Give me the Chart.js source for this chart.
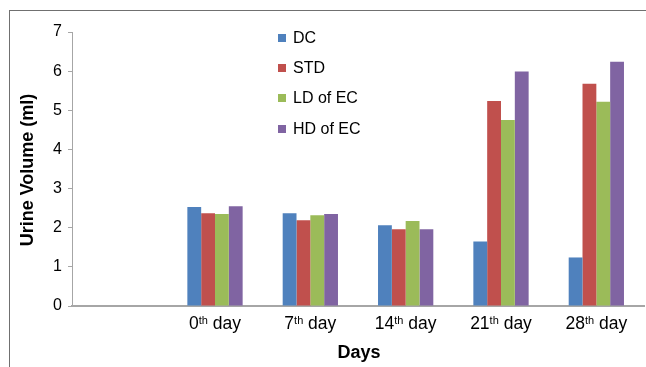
<!DOCTYPE html>
<html>
<head>
<meta charset="utf-8">
<script src="https://cdn.jsdelivr.net/npm/chart.js@4.4.1/dist/chart.umd.min.js"></script>
<style>
  html, body { margin: 0; padding: 0; background: #fff; overflow: hidden; }
  #wrap { position: relative; width: 646px; height: 367px; overflow: hidden; }
  #frame { position: absolute; left: 9px; top: 10px; width: 637px; height: 357px; border-left: 1px solid #707070; border-top: 1px solid #707070; box-sizing: border-box; }
  canvas { position: absolute; left: 0; top: 0; }
  .leg { position: absolute; left: 278px; font: 16px "Liberation Sans", Arial, sans-serif; color: #000; line-height: 20px; height: 20px; }
  .leg span.sw { position: absolute; left: 0; top: 6px; width: 8px; height: 8px; }
  .leg span.tx { position: absolute; left: 15px; top: 0; white-space: nowrap; }
</style>
</head>
<body>
<div id="wrap">
  <div id="frame"></div>
  <canvas id="c" width="646" height="367"></canvas>
  <div id="legend"></div>
</div>
<script>
const categories = ['', '0th day', '7th day', '14th day', '21th day', '28th day'];
const seriesNames = ['DC', 'STD', 'LD of EC', 'HD of EC'];
const seriesColors = ['#4F81BD', '#C0504D', '#9BBB59', '#8064A2'];
const dcValues  = [null, 2.53, 2.37, 2.06, 1.65, 1.24];
const stdValues = [null, 2.37, 2.19, 1.96, 5.24, 5.68];
const ldValues  = [null, 2.35, 2.32, 2.17, 4.75, 5.22];
const hdValues  = [null, 2.55, 2.35, 1.96, 5.99, 6.24];
const yTicks = [0, 1, 2, 3, 4, 5, 6, 7];
const yTitle = 'Urine Volume (ml)';
const xTitle = 'Days';

const allValues = [dcValues, stdValues, ldValues, hdValues];

// HTML legend
const legendTops = [28, 58, 88, 119];
const legendEl = document.getElementById('legend');
seriesNames.forEach((n, i) => {
  const d = document.createElement('div');
  d.className = 'leg';
  d.style.top = legendTops[i] + 'px';
  d.innerHTML = '<span class="sw" style="background:' + seriesColors[i] + '"></span><span class="tx"></span>';
  d.querySelector('.tx').textContent = n;
  legendEl.appendChild(d);
});

const FONT = '"Liberation Sans", Arial, sans-serif';

const labelPlugin = {
  id: 'supLabels',
  afterDraw(chart) {
    const ctx = chart.ctx;
    const xs = chart.scales.x;
    ctx.save();
    ctx.fillStyle = '#000';
    ctx.textBaseline = 'alphabetic';
    ctx.textAlign = 'left';
    const baseY = 329;
    categories.forEach((lab, i) => {
      if (!lab) return;
      const m = lab.match(/^(\d+)(th|st|nd|rd)(.*)$/);
      const px = xs.getPixelForValue(i);
      const parts = m ? [m[1], m[2], m[3]] : [lab, '', ''];
      const bigF = '17.5px ' + FONT, supF = '11px ' + FONT;
      ctx.font = bigF; const w1 = ctx.measureText(parts[0]).width;
      ctx.font = supF; const w2 = ctx.measureText(parts[1]).width;
      ctx.font = bigF; const w3 = ctx.measureText(parts[2]).width;
      let x = px - (w1 + w2 + w3) / 2;
      ctx.font = bigF; ctx.fillText(parts[0], x, baseY); x += w1;
      ctx.font = supF; ctx.fillText(parts[1], x, baseY - 5.5); x += w2;
      ctx.font = bigF; ctx.fillText(parts[2], x, baseY);
    });
    // axis titles
    ctx.font = 'bold 18px ' + FONT;
    ctx.textAlign = 'center';
    ctx.textBaseline = 'middle';
    ctx.fillText(xTitle, 359, 353);
    ctx.translate(28, 170);
    ctx.rotate(-Math.PI / 2);
    ctx.fillText(yTitle, 0, 0);
    ctx.restore();
  }
};

new Chart(document.getElementById('c'), {
  type: 'bar',
  data: {
    labels: categories,
    datasets: seriesNames.map((n, i) => ({
      label: n,
      data: allValues[i],
      backgroundColor: seriesColors[i],
      borderWidth: 0,
      categoryPercentage: 0.58,
      barPercentage: 1.0
    }))
  },
  options: {
    responsive: false,
    animation: false,
    devicePixelRatio: 1,
    layout: { padding: { top: 32, right: 2, left: 0, bottom: 0 } },
    plugins: { legend: { display: false }, tooltip: { enabled: false }, title: { display: false } },
    scales: {
      x: {
        grid: { display: false },
        border: { display: true, color: '#a6a6a6', width: 2 },
        ticks: { display: false },
        afterFit(s) { s.height = 61; }
      },
      y: {
        min: 0, max: 7,
        afterBuildTicks(s) { s.ticks = yTicks.map(v => ({ value: v })); },
        grid: { drawOnChartArea: false, drawTicks: true, tickLength: 4, color: '#a6a6a6' },
        border: { display: true, color: '#a6a6a6', width: 1 },
        ticks: { color: '#000', font: { family: FONT, size: 16 }, padding: 6 },
        afterFit(s) { s.width = 72; }
      }
    }
  },
  plugins: [labelPlugin]
});
</script>
</body>
</html>
